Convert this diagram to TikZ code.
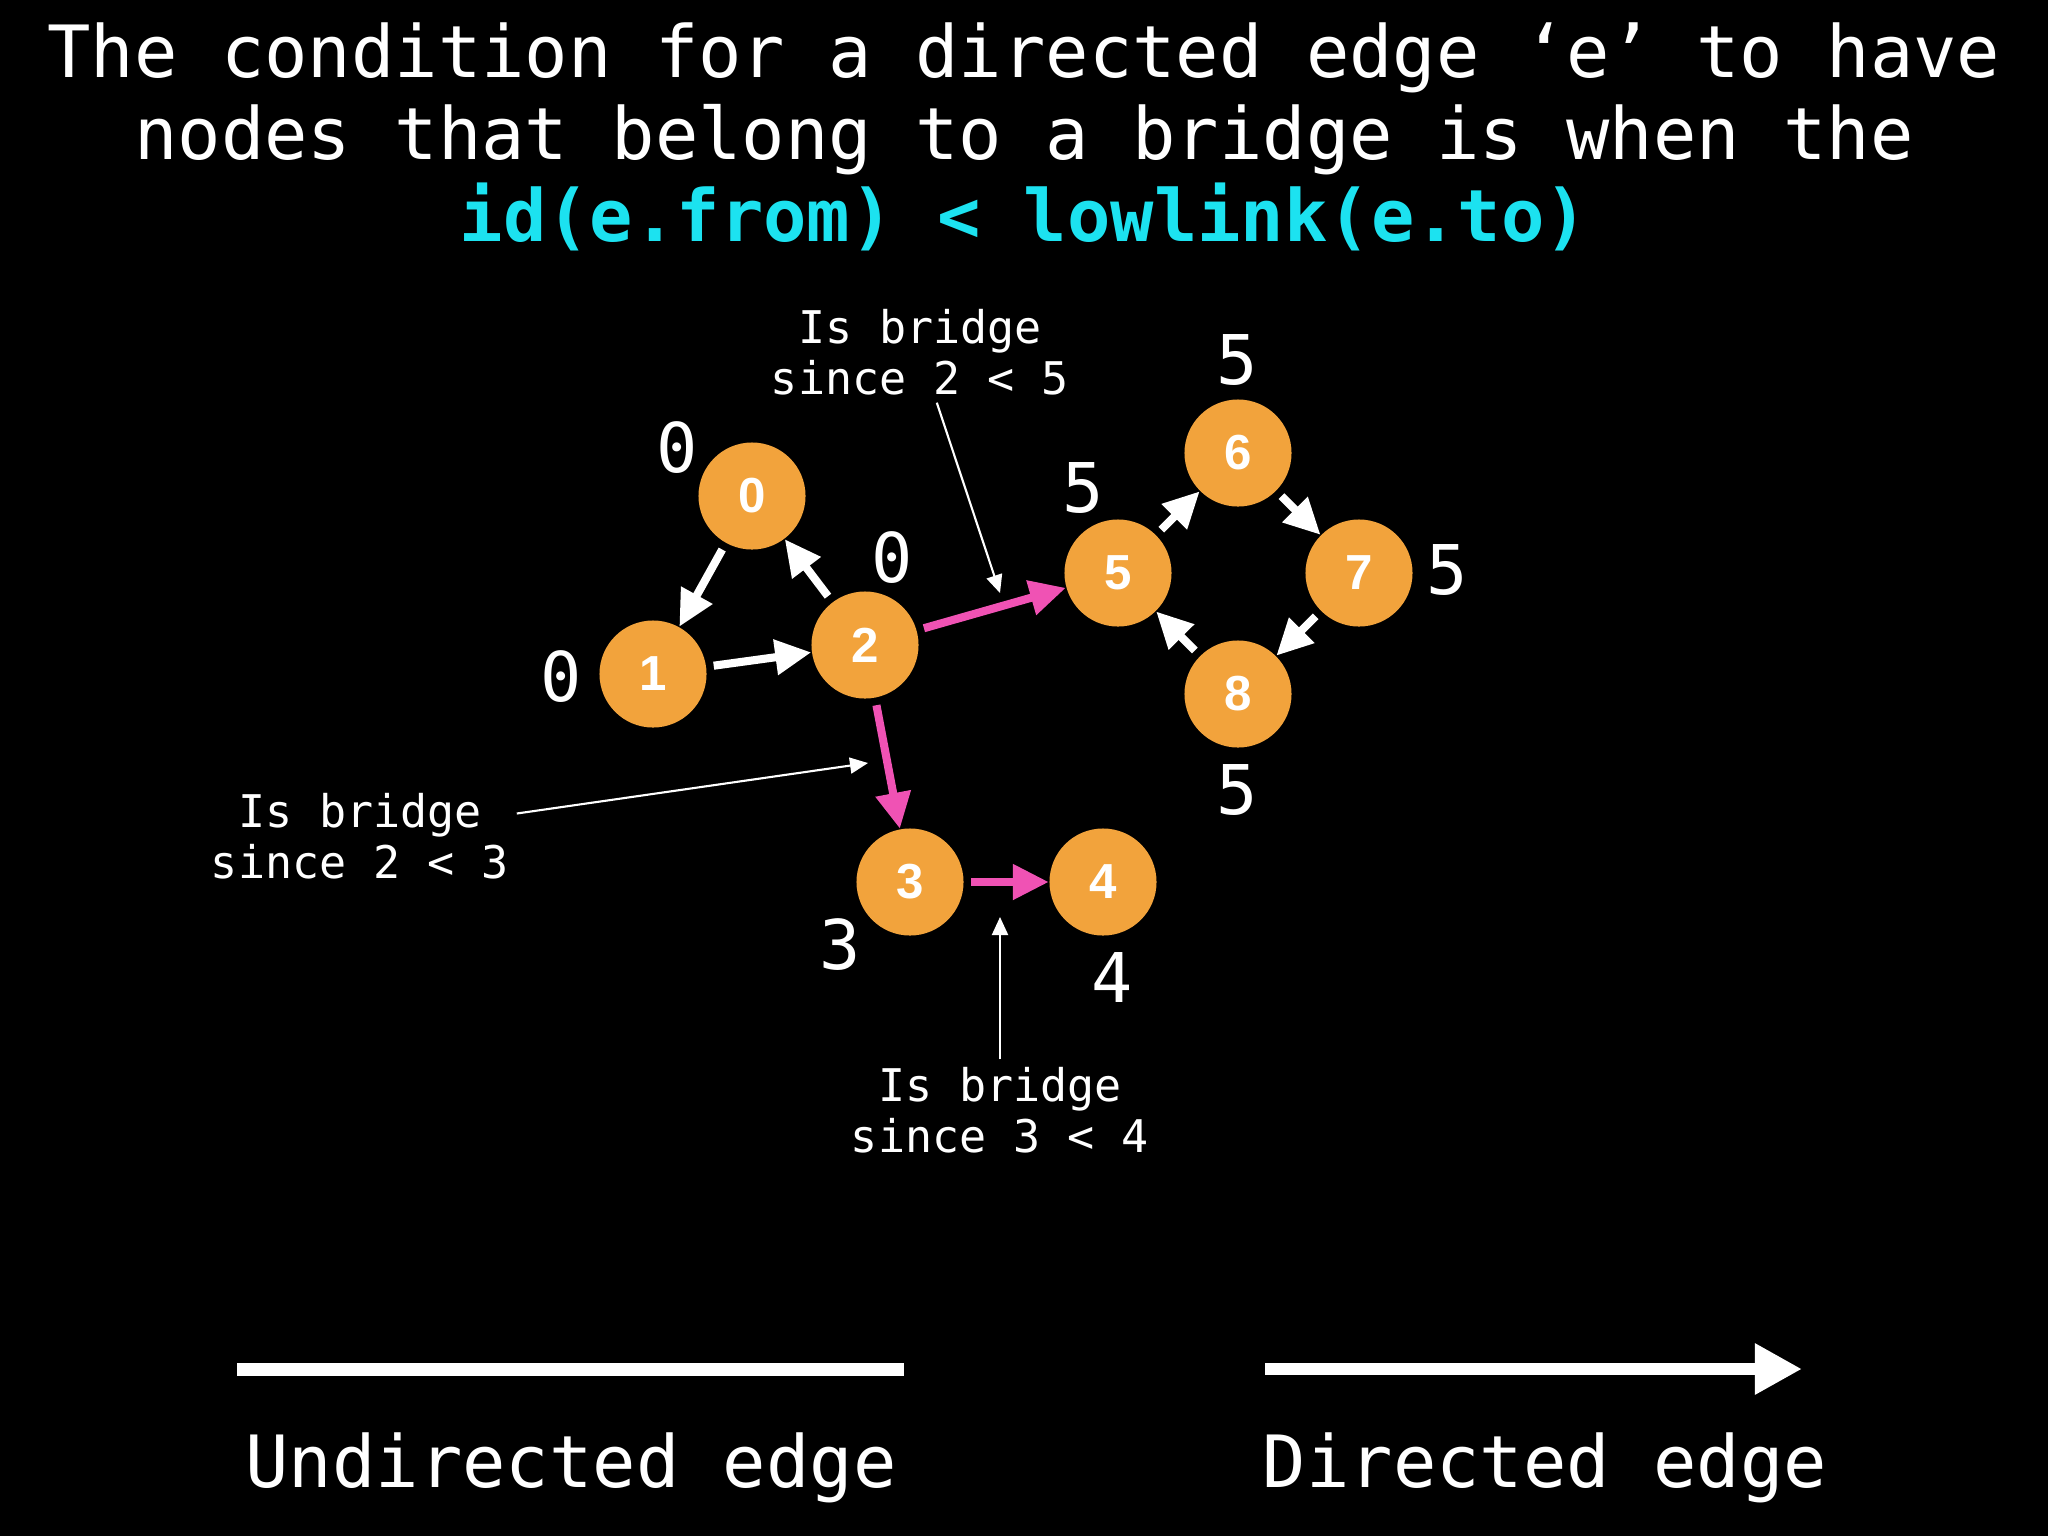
\documentclass[tikz,border=0pt]{standalone}
\usepackage{fontspec}
\setmonofont{DejaVu Sans Mono}
\setsansfont{Liberation Sans}
\usetikzlibrary{arrows.meta}
\definecolor{vert}{HTML}{F2A33C}
\definecolor{bridge}{HTML}{F052B4}
\definecolor{cond}{HTML}{1CE2F0}

\begin{document}
\begin{tikzpicture}[
  x=0.01cm, y=-0.01cm,
  line join=round,
  vtx/.style={circle, fill=vert, minimum size=1.07cm, inner sep=0pt, text=white,
              font=\sffamily\bfseries\fontsize{14}{14}\selectfont},
  % low-link value beside each vertex
  low/.style={text=white, font=\ttfamily\fontsize{19.5}{19.5}\selectfont},
  note/.style={text=white, align=center, inner sep=2pt,
               font=\ttfamily\fontsize{12.8}{14.5}\selectfont},
  big/.style={text=white, align=center, font=\ttfamily\fontsize{20.5}{23.4}\selectfont},
  link/.style={draw=white, line width=2.3pt, shorten <=2pt,
               -{Triangle[length=0.36cm,width=0.34cm]}},
  blink/.style={link, draw=bridge},
  pointer/.style={draw=white, line width=0.6pt, -{Triangle[length=0.18cm,width=0.16cm]}},
]
\fill[black] (0,0) rectangle (2048,1536);

% --- Title
\node[big] (head) at (1024,137) {The condition for a directed edge ‘e’ to have\\
  nodes that belong to a bridge is when the\\
  \textcolor{cond}{\bfseries id(e.from) < lowlink(e.to)}};

% --- Vertices
\node[vtx] (v0) at (752,496) {0};
\node[vtx] (v1) at (653,674) {1};
\node[vtx] (v2) at (865,645) {2};
\node[vtx] (v3) at (910,882) {3};
\node[vtx] (v4) at (1103,882) {4};
\node[vtx] (v5) at (1118,573) {5};
\node[vtx] (v6) at (1238,453) {6};
\node[vtx] (v7) at (1359,573) {7};
\node[vtx] (v8) at (1238,694) {8};

% --- Low-link values
\foreach \n/\x/\y/\v in {0/677/448/0, 1/561/677/0, 2/892/558/0, 3/840/945/3, 4/1112/977/4,
                         5/1083/488/5, 6/1237/360/5, 7/1447/570/5, 8/1237/790/5}
  \node[low] (l\n) at (\x,\y) {\v};

% --- Edges (bridges in pink)
\draw[link] (v0) -- (v1);
\draw[link] (v1) -- (v2);
\draw[link] (v2) -- (v0);
\draw[link] (v5) -- (v6);
\draw[link] (v6) -- (v7);
\draw[link] (v7) -- (v8);
\draw[link] (v8) -- (v5);
\draw[blink] (v2) -- (v5);
\draw[blink] (v2) -- (v3);
\draw[blink] (v3) -- (v4);

% --- Notes with pointers
\node[note] (n25) at (920,352) {Is bridge\\since 2 < 5};
\node[note] (n23) at (360,836) {Is bridge\\since 2 < 3};
\node[note] (n34) at (1000,1110) {Is bridge\\since 3 < 4};
\coordinate (t25) at (1000,593);
\coordinate (t23) at (868,763);
\coordinate (t34) at (1000,917);
\draw[pointer] (n25) -- (t25);
\draw[pointer] (n23) -- (t23);
\draw[pointer] (n34) -- (t34);

% --- Legend
\coordinate (undA) at (237,1369);
\coordinate (undB) at (904,1369);
\coordinate (dirA) at (1265,1369);
\coordinate (dirB) at (1802,1369);
\draw[white, line width=3.7pt] (undA) -- (undB);
\draw[white, line width=3.4pt, -{Triangle[length=0.47cm,width=0.48cm]}] (dirA) -- (dirB);
\node[big] (lgU) at (571,1468) {Undirected edge};
\node[big] (lgD) at (1545,1468) {Directed edge};
\end{tikzpicture}
\end{document}
